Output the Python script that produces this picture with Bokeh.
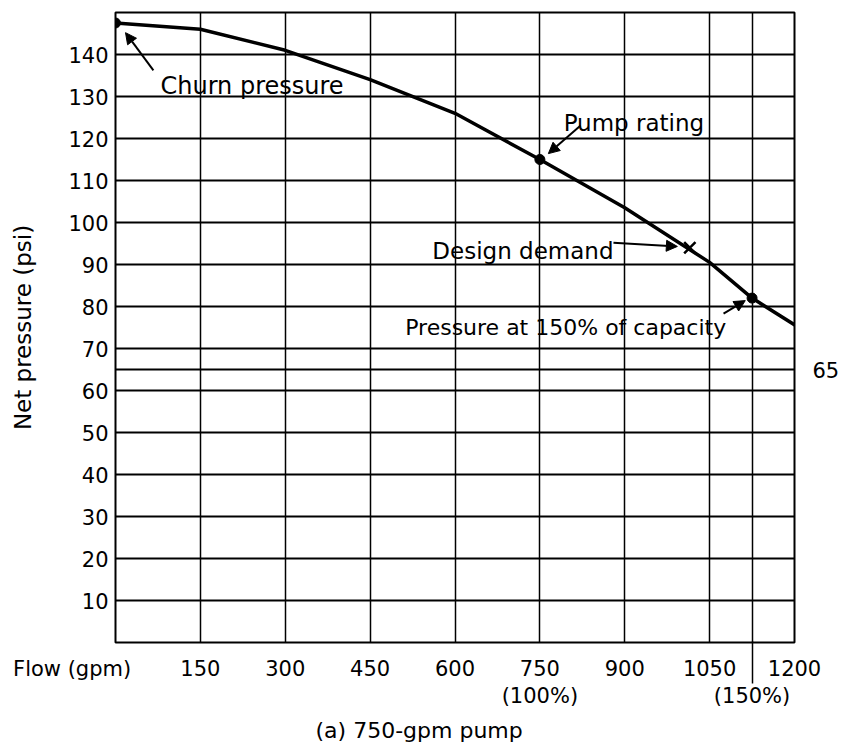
from bokeh.plotting import figure
from bokeh.models import FixedTicker, Label, Arrow, NormalHead, LinearAxis, Title
from bokeh.embed import file_html
from bokeh.resources import INLINE

# ---- data ----
flow_gpm = [0, 150, 300, 450, 600, 750, 900, 1050, 1125, 1225]
net_psi = [147.5, 146, 141, 134, 126, 115, 103.5, 90.5, 82, 73.5]

x_tick_values = [0, 150, 300, 450, 600, 750, 900, 1050, 1200]
x_tick_labels = {0: "Flow (gpm)"}
y_tick_values = [10, 20, 30, 40, 50, 60, 70, 80, 90, 100, 110, 120, 130, 140]
minimum_psi = 65
capacity_150_gpm = 1125
percent_ticks = {750: "(100%)", 1125: "(150%)"}

dot_flow = [0, 750, 1125]          # churn, pump rating, 150% capacity
dot_psi = [147.5, 115, 82]
design_flow = [1015]
design_psi = [94]

FONT = "DejaVu Sans"
NBSP = "\u00a0"

p = figure(frame_width=679, frame_height=630,
           min_border_left=115, min_border_right=41,
           min_border_top=12, min_border_bottom=100,
           x_range=(0, 1200), y_range=(0, 150),
           output_backend="svg", toolbar_location=None)

p.background_fill_color = "white"
p.border_fill_color = "white"
p.outline_line_color = "black"
p.outline_line_width = 2
p.outline_line_alpha = 1

def style_axis(ax, size="21px"):
    ax.axis_line_color = None
    ax.major_tick_line_color = None
    ax.major_tick_out = 0
    ax.major_tick_in = 0
    ax.minor_tick_line_color = None
    ax.minor_tick_out = 0
    ax.minor_tick_in = 0
    ax.major_label_text_font = FONT
    ax.major_label_text_font_size = size
    ax.major_label_text_color = "black"

# main axes
p.xaxis.ticker = FixedTicker(ticks=x_tick_values)
# the axis title sits left of the first tick label (padded so it ends before the frame)
p.xaxis.major_label_overrides = {k: v + NBSP * 13 for k, v in x_tick_labels.items()}
p.yaxis.ticker = FixedTicker(ticks=y_tick_values)
style_axis(p.xaxis[0])
style_axis(p.yaxis[0])
p.xaxis.major_label_standoff = 14
p.yaxis.major_label_standoff = 7
p.yaxis.axis_label = "Net pressure (psi)"
p.yaxis.axis_label_text_font = FONT
p.yaxis.axis_label_text_font_size = "23px"
p.yaxis.axis_label_text_font_style = "normal"
p.yaxis.axis_label_text_color = "black"
p.yaxis.axis_label_standoff = 29

# percentage row under the flow labels; its minor tick continues the 150 % line
pct_axis = LinearAxis(ticker=FixedTicker(ticks=list(percent_ticks.keys()),
                                         minor_ticks=[capacity_150_gpm]),
                      major_label_overrides=percent_ticks)
style_axis(pct_axis)
pct_axis.minor_tick_line_color = "black"
pct_axis.minor_tick_line_width = 1.5
pct_axis.minor_tick_in = 42
pct_axis.minor_tick_out = 0
pct_axis.major_label_standoff = 0
p.add_layout(pct_axis, "below")

# minimum pressure label on the right
right_axis = LinearAxis(ticker=FixedTicker(ticks=[minimum_psi]))
style_axis(right_axis)
right_axis.major_label_standoff = 18
p.add_layout(right_axis, "right")

# caption
p.add_layout(Title(text="(a) 750-gpm pump", align="left", offset=200,
                   text_font=FONT, text_font_size="22px", text_font_style="normal",
                   text_color="black", standoff=10), "below")

# grid
p.xgrid.ticker = FixedTicker(ticks=x_tick_values[1:] + [capacity_150_gpm])
p.ygrid.ticker = FixedTicker(ticks=y_tick_values + [minimum_psi])
p.xgrid.grid_line_color = "black"
p.xgrid.grid_line_width = 1.5
p.xgrid.grid_line_alpha = 1
p.ygrid.grid_line_color = "black"
p.ygrid.grid_line_width = 2
p.ygrid.grid_line_alpha = 1

# pump curve
p.line(flow_gpm, net_psi, line_color="black", line_width=3.5)
p.scatter(dot_flow, dot_psi, size=10, color="black")
p.scatter(design_flow, design_psi, marker="x", size=16, line_color="black", line_width=2.5)

def label(x, y, text, size="23px"):
    p.add_layout(Label(x=x, y=y, text=text, text_font=FONT, text_font_size=size,
                       text_color="black", text_align="left", text_baseline="alphabetic"))

def arrow(x0, y0, x1, y1):
    p.add_layout(Arrow(end=NormalHead(size=11, fill_color="black", line_color="black"),
                       x_start=x0, y_start=y0, x_end=x1, y_end=y1,
                       line_color="black", line_width=2))

label(79.5, 132.4, "Churn pressure", size="24px")
arrow(67, 136.2, 17.7, 145.2)

label(792, 123.8, "Pump rating")
arrow(822, 123.1, 765, 116.4)

label(560, 93.3, "Design demand")
arrow(880, 95.2, 993, 94.3)

label(512, 75, "Pressure at 150% of capacity", size="22px")
arrow(1074.6, 78.3, 1113, 81.4)

open("out.html", "w").write(file_html(p, INLINE))
